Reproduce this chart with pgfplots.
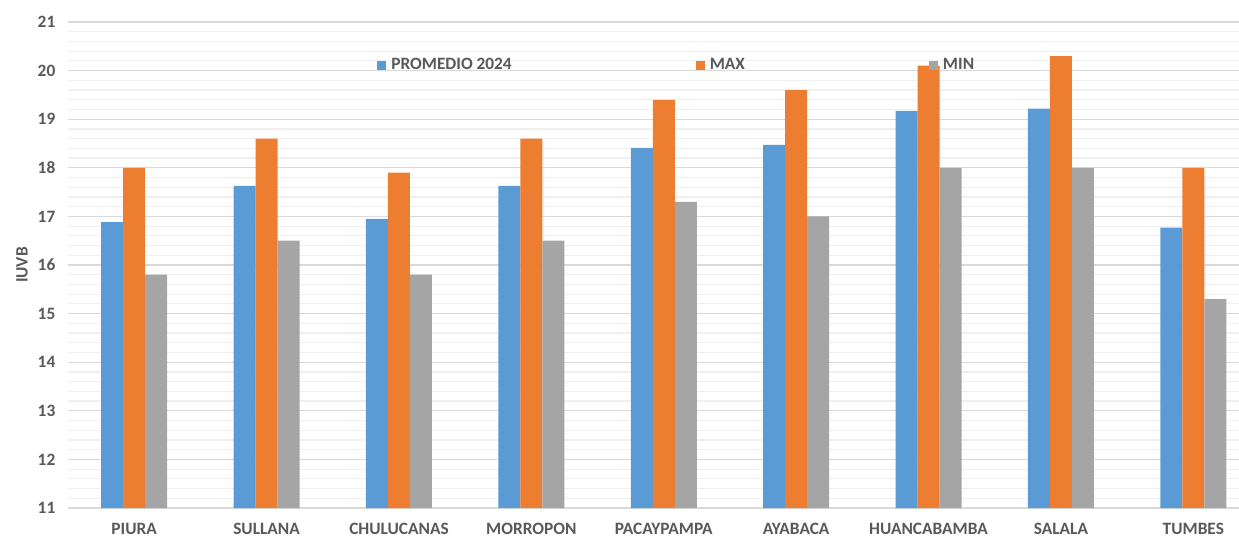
\documentclass[border=0pt]{standalone}
\usepackage{fontspec}
\setmainfont{Carlito}
\usepackage{pgfplots}
\pgfplotsset{compat=1.18}
\definecolor{cblue}{HTML}{5B9BD5}
\definecolor{corange}{HTML}{ED7D31}
\definecolor{cgray}{HTML}{A5A5A5}
\definecolor{ctext}{HTML}{595959}
\definecolor{gmajor}{HTML}{D9D9D9}
\definecolor{gminor}{HTML}{EFEFEF}
\begin{document}
\begin{tikzpicture}[x=1pt,y=1pt]
\path[use as bounding box] (-51,-21.75) rectangle (878.25,381);
\begin{axis}[
  at={(0,0)}, anchor=south west,
  scale only axis, width=878.25pt, height=364.5pt,
  xmin=-0.5, xmax=8.345, ymin=11, ymax=21,
  ybar=0pt, bar width=16.5pt,
  axis line style={draw=none},
  xtick={0,...,8},
  xticklabels={PIURA,SULLANA,CHULUCANAS,MORROPON,PACAYPAMPA,AYABACA,HUANCABAMBA,SALALA,TUMBES},
  ytick={11,...,21},
  minor y tick num=4,
  major tick length=0pt, minor tick length=0pt,
  ymajorgrids, yminorgrids,
  major grid style={gmajor, line width=0.9pt},
  minor grid style={gminor, line width=0.9pt},
  /pgf/number format/assume math mode=true,
  tick label style={font=\bfseries\fontsize{13}{15}\selectfont, text=ctext},
  yticklabel style={xshift=-6pt},
  xticklabel style={yshift=-8pt},
  ylabel={IUVB},
  ylabel style={font=\bfseries\fontsize{13}{15}\selectfont, text=ctext, at={(axis description cs:0,0.5)}, anchor=center},
  every axis y label/.append style={yshift=34.5pt},
  legend columns=3,
  legend style={draw=none, fill=none, at={(axis description cs:0.2605,0.911)}, anchor=west,
    font=\bfseries\fontsize{13}{15}\selectfont, text=ctext,
    /tikz/every even column/.append style={column sep=136pt}},
  legend image code/.code={\fill[#1] (0pt,-3.4pt) rectangle (6.8pt,3.4pt); \path (8.5pt,0pt);},
]
\addplot[fill=cblue, draw=none] coordinates {(0,16.88) (1,17.63) (2,16.95) (3,17.63) (4,18.41) (5,18.47) (6,19.17) (7,19.22) (8,16.77)};
\addplot[fill=corange, draw=none] coordinates {(0,18.0) (1,18.6) (2,17.9) (3,18.6) (4,19.4) (5,19.6) (6,20.1) (7,20.3) (8,18.0)};
\addplot[fill=cgray, draw=none] coordinates {(0,15.8) (1,16.5) (2,15.8) (3,16.5) (4,17.3) (5,17.0) (6,18.0) (7,18.0) (8,15.3)};
\legend{PROMEDIO 2024,MAX,MIN}
\end{axis}
\end{tikzpicture}
\end{document}
